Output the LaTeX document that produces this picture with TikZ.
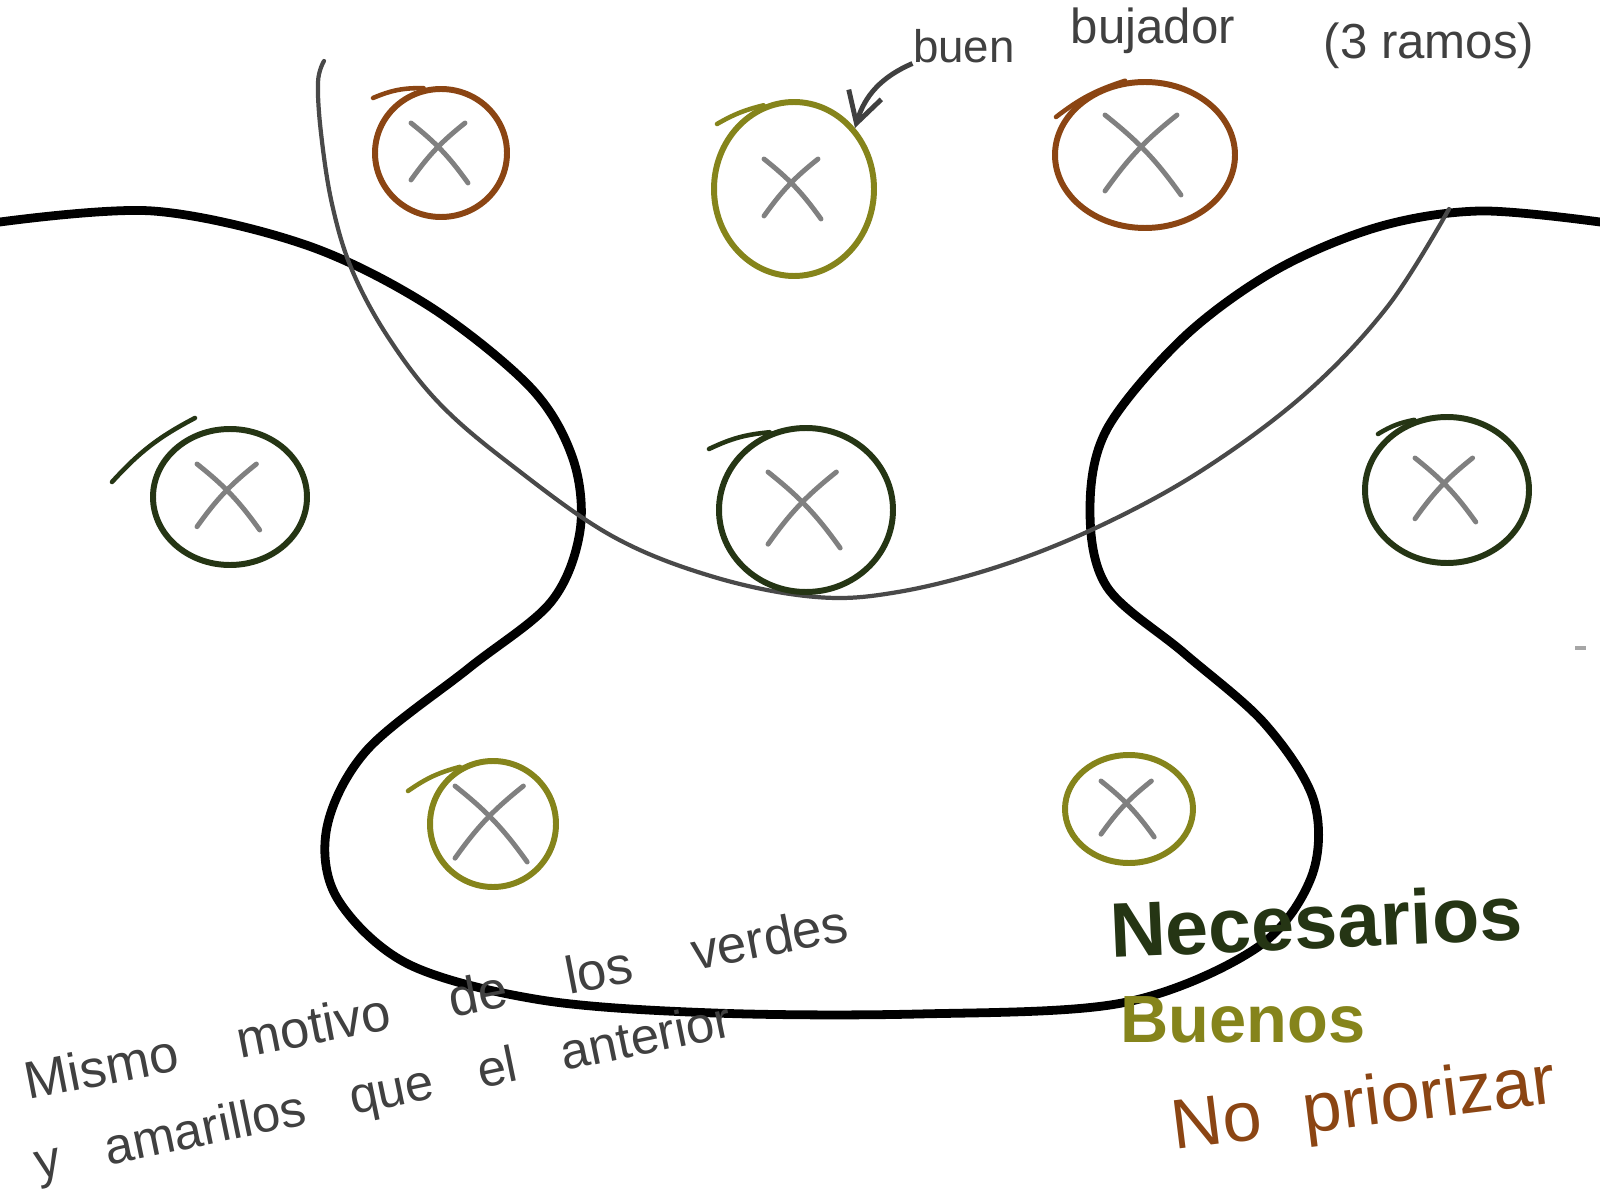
\documentclass[tikz,border=0pt]{standalone}
\usepackage{fontspec}
\setmainfont{Liberation Sans}
\usepackage{tikz}
\usetikzlibrary{arrows.meta,calc,shapes.geometric}
\definecolor{rustbrown}{HTML}{8B4513}
\definecolor{olivegood}{HTML}{85841B}
\definecolor{darkneed}{HTML}{253514}
\definecolor{pencil}{HTML}{404040}
\definecolor{xgray}{HTML}{808080}
\tikzset{
  blob/.style    = {line width=2.5pt, line cap=round, line join=round},
  cut/.style     = {line width=1.2pt, pencil!95, line cap=round},
  ring/.style    = {ellipse, line width=1.7pt, inner sep=0pt},
  ringtail/.style= {line width=1.3pt, line cap=round},
  xmark/.style   = {line width=1.4pt, xgray, line cap=round},
  pointer/.style = {-{Straight Barb[length=3mm,width=3.4mm]}, line width=1.4pt, pencil},
  note/.style    = {text=pencil, inner sep=0pt},
}
% ring with its cross: name, x, y, rx, ry, colour, half size of the cross
\newcommand{\ring}[7]{%
  \node[ring, draw=#6, minimum width=#4*0.2mm, minimum height=#5*0.2mm] (#1) at (#2,#3) {};
  \draw[xmark] ($(#1)+(-#7,-#7)$) to[bend left=8] ($(#1)+(#7*0.9,#7)$);
  \draw[xmark] ($(#1)+(#7*0.8,-#7)$) to[bend right=8] ($(#1)+(-#7,#7*0.9)$);
}
% wide gaps between handwritten words
\newcommand{\wide}[1]{\spaceskip=#1\relax}

\begin{document}
\begin{tikzpicture}[x=0.1mm, y=-0.1mm]
  \useasboundingbox (0,0) rectangle (1600,1200);

  % =======================================================================
  %  the black outline and the thin cut across it
  % =======================================================================
  \draw[blob] plot[smooth, tension=0.55] coordinates {
    (0,222) (153,211) (306,245) (429,306) (531,388) (573,459) (580,531)
    (551,602) (469,668) (367,750) (327,827) (337,898) (408,964) (541,1000)
    (714,1013) (918,1014) (1122,1003) (1255,949) (1311,878) (1314,801)
    (1265,724) (1184,653) (1107,587) (1090,510) (1107,429) (1184,337)
    (1276,270) (1378,227) (1480,211) (1600,222)};

  \draw[cut] plot[smooth, tension=0.6] coordinates {
    (324,61) (318,82) (321,133) (332,204) (352,270) (388,337) (439,403)
    (510,464) (612,536) (714,577) (816,597) (898,592) (1000,566)
    (1102,525) (1204,469) (1306,393) (1388,306) (1449,209)};

  % =======================================================================
  %  rings
  % =======================================================================
  \ring{brownA}{441}{153}{66}{64}{rustbrown}{30}
  \ring{oliveA}{794}{189}{80}{87}{olivegood}{30}
  \ring{brownB}{1145}{155}{90}{73}{rustbrown}{40}
  \ring{greenA}{230}{497}{77}{68}{darkneed}{33}
  \ring{greenB}{806}{510}{87}{82}{darkneed}{38}
  \ring{greenC}{1447}{490}{82}{73}{darkneed}{32}
  \ring{oliveB}{493}{824}{63}{63}{olivegood}{38}
  \ring{oliveC}{1129}{809}{64}{54}{olivegood}{28}

  % overshoot of each stroke
  \draw[ringtail, rustbrown] (brownA.105) to[bend right=12] (373,98);
  \draw[ringtail, olivegood] (oliveA.110) to[bend right=8] (717,124);
  \draw[ringtail, rustbrown] (brownB.105) to[bend right=10] (1056,117);
  \draw[ringtail, darkneed] (195,418) to[bend right=10] (112,482);
  \draw[ringtail, darkneed] (greenB.115) to[bend right=10] (709,449);
  \draw[ringtail, darkneed] (greenC.115) to[bend right=10] (1378,434);
  \draw[ringtail, olivegood] (oliveB.120) to[bend right=10] (408,791);
  \draw[xgray!70, line width=1pt] (1575,648) -- (1586,648);

  % =======================================================================
  %  notes
  % =======================================================================
  \node[note, font=\fontsize{13}{15}\selectfont] (buen) at (964,46) {buen};
  \node[note, font=\fontsize{14}{16}\selectfont] (bujador) at (1153,31) {bujador};
  \node[note, font=\fontsize{14}{16}\selectfont] (ramos) at (1429,46) {(3 ramos)};
  \draw[pointer] (buen.south west) to[bend right=25] (oliveA.45);

  \node[note, font=\fontsize{15}{18}\selectfont, rotate=11,
        anchor=base west] (motivo) at (28,1100)
        {\wide{1.15em}Mismo motivo de los verdes};
  \node[note, font=\fontsize{14.5}{17}\selectfont, rotate=11.7,
        anchor=base west] (amarillos) at (38,1180)
        {\wide{0.9em}y amarillos que el anterior};

  \node[text=darkneed, font=\bfseries\fontsize{22}{26}\selectfont, rotate=2.5] (need) at (1316,921) {Necesarios};
  \node[text=olivegood, font=\bfseries\fontsize{19}{23}\selectfont] (good) at (1243,1020) {Buenos};
  \node[text=rustbrown, font=\fontsize{20}{24}\selectfont, rotate=7] (skip) at (1364,1108) {\wide{0.6em}No priorizar};
\end{tikzpicture}
\end{document}
